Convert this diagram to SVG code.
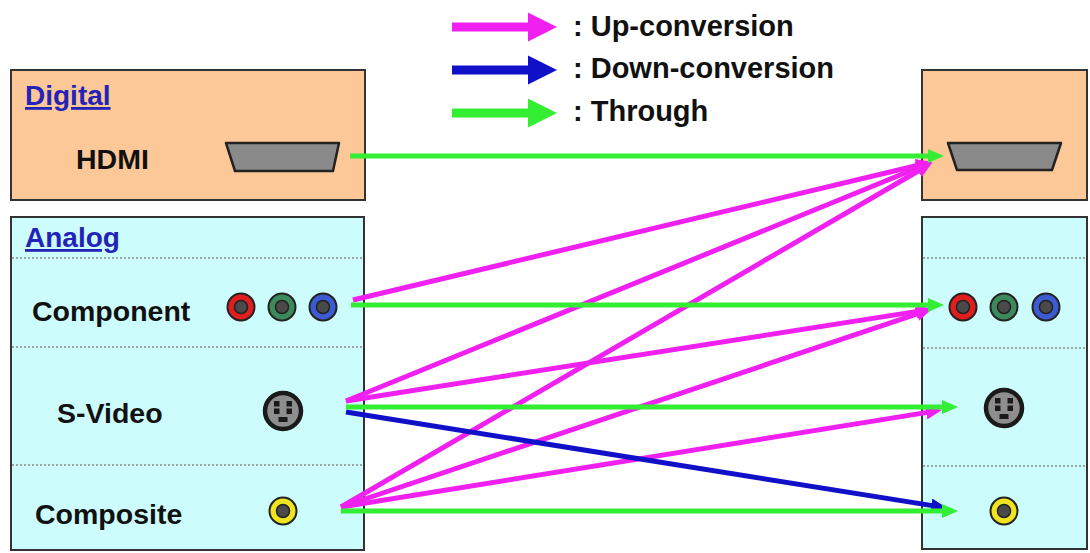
<svg xmlns="http://www.w3.org/2000/svg" width="1090" height="553" viewBox="0 0 1090 553">
<defs>
<style>
.lbl{font-family:"Liberation Sans",Arial,sans-serif;font-weight:bold;font-size:28.5px;fill:#111}
.hdr{font-family:"Liberation Sans",Arial,sans-serif;font-weight:bold;font-size:28px;fill:#2323b8;text-decoration:underline}
.leg{font-family:"Liberation Sans",Arial,sans-serif;font-weight:bold;font-size:29px;fill:#111}
.dig{fill:#fcc898;stroke:#333;stroke-width:2}
.ana{fill:#ccfcfc;stroke:#333;stroke-width:2}
.dot{stroke:#8a8a8a;stroke-width:1.5;stroke-dasharray:2 2;fill:none}
.hdmi{fill:#8a8a8a;stroke:#222;stroke-width:2.5;stroke-linejoin:round}
.ring{stroke:#222;stroke-width:2}
.core{fill:#4a4a4a;stroke:#222;stroke-width:1.5}
.sv{fill:#8e8e8e;stroke:#1a1a1a;stroke-width:4.5}
.pin{fill:#1a1a1a}
.up{stroke:#f020f0;stroke-width:5;fill:none;marker-end:url(#aUp)}
.down{stroke:#1010c8;stroke-width:5;fill:none;marker-end:url(#aDown)}
.thr{stroke:#33ee33;stroke-width:5;fill:none;marker-end:url(#aThr)}
</style>
<marker id="aUp" markerUnits="userSpaceOnUse" markerWidth="16" markerHeight="14" refX="6" refY="7" orient="auto" viewBox="0 0 16 14"><path d="M0,0 L16,7 L0,14 z" fill="#f020f0"/></marker>
<marker id="aDown" markerUnits="userSpaceOnUse" markerWidth="16" markerHeight="14" refX="6" refY="7" orient="auto" viewBox="0 0 16 14"><path d="M0,0 L16,7 L0,14 z" fill="#1010c8"/></marker>
<marker id="aThr" markerUnits="userSpaceOnUse" markerWidth="16" markerHeight="14" refX="6" refY="7" orient="auto" viewBox="0 0 16 14"><path d="M0,0 L16,7 L0,14 z" fill="#33ee33"/></marker>
</defs>
<rect width="1090" height="553" fill="#ffffff"/>

<g id="legend">
<polygon points="452,22.5 528,22.5 528,12.5 557,27 528,41.5 528,31.5 452,31.5" fill="#f020f0"/>
<polygon points="452,65.5 528,65.5 528,55.5 557,70 528,84.5 528,74.5 452,74.5" fill="#1010c8"/>
<polygon points="452,108.5 528,108.5 528,98.5 557,113 528,127.5 528,117.5 452,117.5" fill="#33ee33"/>
<text class="leg" x="573" y="36">: Up-conversion</text>
<text class="leg" x="573" y="78">: Down-conversion</text>
<text class="leg" x="573" y="121">: Through</text>
</g>

<g id="src-digital">
<rect class="dig" x="11" y="70" width="354" height="130"/>
<text class="hdr" x="25" y="105">Digital</text>
<text class="lbl" x="76" y="169">HDMI</text>
<polygon class="hdmi" points="226,143 339,143 333,171 235,171"/>
</g>

<g id="src-analog">
<rect class="ana" x="11" y="217" width="353" height="333"/>
<text class="hdr" x="25" y="247">Analog</text>
<line class="dot" x1="12" y1="258" x2="363" y2="258"/>
<line class="dot" x1="12" y1="347" x2="363" y2="347"/>
<line class="dot" x1="12" y1="465" x2="363" y2="465"/>
</g>

<g id="src-component">
<text class="lbl" x="32" y="321">Component</text>
<circle class="ring" cx="241" cy="307" r="13.5" fill="#e01e1e"/>
<circle class="core" cx="241" cy="307" r="6.5"/>
<circle class="ring" cx="282" cy="307" r="13.5" fill="#3c8a5c"/>
<circle class="core" cx="282" cy="307" r="6.5"/>
<circle class="ring" cx="323" cy="307" r="13.5" fill="#3c5ad2"/>
<circle class="core" cx="323" cy="307" r="6.5"/>
</g>

<g id="src-svideo">
<text class="lbl" x="57" y="423">S-Video</text>
<circle class="sv" cx="283" cy="411" r="18"/>
<rect class="pin" x="274" y="401" width="5.5" height="5.5"/>
<rect class="pin" x="286.5" y="401" width="5.5" height="5.5"/>
<rect class="pin" x="274" y="408.5" width="5.5" height="5.5"/>
<rect class="pin" x="286.5" y="408.5" width="5.5" height="5.5"/>
<rect class="pin" x="278.5" y="417" width="9" height="5"/>
</g>

<g id="src-composite">
<text class="lbl" x="35" y="524">Composite</text>
<circle class="ring" cx="283" cy="511" r="13.5" fill="#f0e41e"/>
<circle class="core" cx="283" cy="511" r="6.5"/>
</g>

<g id="dst-digital">
<rect class="dig" x="922" y="70" width="165" height="130"/>
<polygon class="hdmi" points="948,143 1061,143 1052,170 957,170"/>
</g>

<g id="dst-analog">
<rect class="ana" x="922" y="217" width="165" height="332"/>
<line class="dot" x1="923" y1="258" x2="1086" y2="258"/>
<line class="dot" x1="923" y1="348" x2="1086" y2="348"/>
<line class="dot" x1="923" y1="466" x2="1086" y2="466"/>
</g>

<g id="dst-component">
<circle class="ring" cx="963" cy="307" r="13.5" fill="#e01e1e"/>
<circle class="core" cx="963" cy="307" r="6.5"/>
<circle class="ring" cx="1004" cy="307" r="13.5" fill="#3c8a5c"/>
<circle class="core" cx="1004" cy="307" r="6.5"/>
<circle class="ring" cx="1046" cy="307" r="13.5" fill="#3c5ad2"/>
<circle class="core" cx="1046" cy="307" r="6.5"/>
</g>

<g id="dst-svideo">
<circle class="sv" cx="1004" cy="408" r="18"/>
<rect class="pin" x="995" y="398" width="5.5" height="5.5"/>
<rect class="pin" x="1007.5" y="398" width="5.5" height="5.5"/>
<rect class="pin" x="995" y="405.5" width="5.5" height="5.5"/>
<rect class="pin" x="1007.5" y="405.5" width="5.5" height="5.5"/>
<rect class="pin" x="999.5" y="414" width="9" height="5"/>
</g>

<g id="dst-composite">
<circle class="ring" cx="1004" cy="511" r="13.5" fill="#f0e41e"/>
<circle class="core" cx="1004" cy="511" r="6.5"/>
</g>

<g id="connectors">
<line class="up" x1="353" y1="300" x2="922.3" y2="164.3"/>
<line class="up" x1="346" y1="401" x2="922.7" y2="165.8"/>
<line class="up" x1="346" y1="401" x2="922.1" y2="310.6"/>
<line class="up" x1="341" y1="507" x2="923.4" y2="168"/>
<line class="up" x1="341" y1="507" x2="922.5" y2="312.2"/>
<line class="up" x1="341" y1="507" x2="932.1" y2="411.6"/>
<line class="down" x1="346" y1="412" x2="937.1" y2="506.4"/>
<line class="thr" x1="350" y1="156" x2="934" y2="156"/>
<line class="thr" x1="351" y1="305" x2="934" y2="305"/>
<line class="thr" x1="346" y1="407" x2="948" y2="407"/>
<line class="thr" x1="341" y1="511" x2="948" y2="511"/>
</g>
</svg>
